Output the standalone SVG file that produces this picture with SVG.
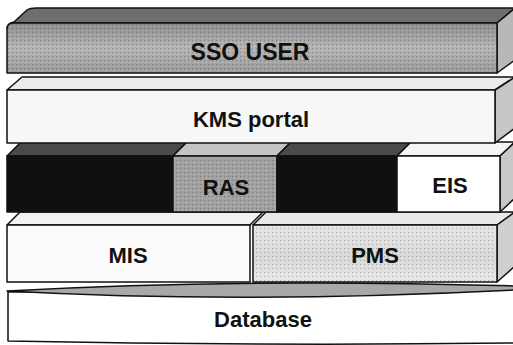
<svg xmlns="http://www.w3.org/2000/svg" width="513" height="345" viewBox="0 0 513 345">
  <defs>
    <linearGradient id="ssoFront" x1="0" y1="0" x2="0" y2="1">
      <stop offset="0" stop-color="#8c8c8c"/>
      <stop offset="0.5" stop-color="#b4b4b4"/>
      <stop offset="1" stop-color="#9a9a9a"/>
    </linearGradient>
    <linearGradient id="pmsFront" x1="0" y1="0" x2="0" y2="1">
      <stop offset="0" stop-color="#e4e4e4"/>
      <stop offset="0.6" stop-color="#d8d8d8"/>
      <stop offset="1" stop-color="#e8e8e8"/>
    </linearGradient>
    <pattern id="dots" width="4" height="4" patternUnits="userSpaceOnUse">
      <rect x="0" y="0" width="1" height="1" fill="#000" opacity="0.25"/>
      <rect x="2" y="2" width="1" height="1" fill="#fff" opacity="0.3"/>
    </pattern>
  </defs>
  <style>
    .edge { stroke: #111; stroke-width: 1.5; stroke-linejoin: round; }
    .lbl { font-family: "Liberation Sans", Arial, sans-serif; font-size: 22px; font-weight: bold; fill: #111; text-anchor: middle; }
    .black { fill: #101010; }
    .blacktop { fill: #4a4a4a; }
  </style>
  <rect width="513" height="345" fill="#ffffff"/>

  <!-- Database -->
  <g id="database">
    <path class="edge" d="M8,292 L8,341 Q260,346 515,343 L515,289 Z" fill="#ffffff"/>
    <path class="edge" d="M7,291 Q240,278 515,286 L515,290 Q240,304 7,291 Z" fill="#a8a8a8"/>
    <text class="lbl" x="263" y="327">Database</text>
  </g>

  <!-- MIS -->
  <g id="mis">
    <polygon class="edge" points="7,225 20,212 263,212 250,225" fill="#f2f2f2"/>
    <rect class="edge" x="7" y="225" width="243" height="57" fill="#fbfbfb"/>
    <text class="lbl" x="128" y="263">MIS</text>
  </g>

  <!-- PMS -->
  <g id="pms">
    <polygon class="edge" points="253,225 266,212 515,212 497,225" fill="#e8e8e8"/>
    <polygon class="edge" points="497,225 515,212 515,266 497,282" fill="#cfcfcf"/>
    <rect class="edge" x="253" y="225" width="244" height="57" fill="url(#pmsFront)"/>
    <rect x="254" y="226" width="242" height="55" fill="url(#dots)"/>
    <text class="lbl" x="375" y="263">PMS</text>
  </g>

  <!-- Layer 3 -->
  <g id="black-left">
    <polygon class="edge blacktop" points="7,156 21,142 187,142 173,156"/>
    <rect class="edge black" x="7" y="156" width="166" height="56"/>
  </g>
  <g id="ras">
    <polygon class="edge" points="173,156 187,142 291,142 277,156" fill="#c4c4c4"/>
    <rect class="edge" x="173" y="156" width="104" height="56" fill="#a0a0a0"/>
    <rect x="174" y="157" width="102" height="54" fill="url(#dots)"/>
    <text class="lbl" x="226" y="195">RAS</text>
  </g>
  <g id="black-right">
    <polygon class="edge blacktop" points="277,156 291,142 411,142 397,156"/>
    <rect class="edge black" x="277" y="156" width="120" height="56"/>
  </g>
  <g id="eis">
    <polygon class="edge" points="397,156 411,142 515,142 500,156" fill="#f4f4f4"/>
    <polygon class="edge" points="500,156 515,142 515,198 500,212" fill="#c8c8c8"/>
    <rect class="edge" x="397" y="156" width="103" height="56" fill="#ffffff"/>
    <text class="lbl" x="450" y="193">EIS</text>
  </g>

  <!-- KMS portal -->
  <g id="kms-portal">
    <polygon class="edge" points="7,90 22,77 515,77 495,90" fill="#ececec"/>
    <polygon class="edge" points="495,90 515,77 515,128 495,143" fill="#c6c6c6"/>
    <rect class="edge" x="7" y="90" width="488" height="53" fill="#f7f7f7"/>
    <text class="lbl" x="251" y="127">KMS portal</text>
  </g>

  <!-- SSO USER -->
  <g id="sso-user">
    <path class="edge" d="M7,29 Q7,23 14,22 L27,10 Q30,8 36,8 L515,8 L497,23 L14,23" fill="#6e6e6e"/>
    <polygon class="edge" points="497,23 515,8 515,60 497,73" fill="#b8b8b8"/>
    <path class="edge" d="M14,23 L497,23 L497,73 L7,73 L7,29 Q7,23 14,23 Z" fill="url(#ssoFront)"/>
    <rect x="8" y="24" width="488" height="48" fill="url(#dots)"/>
    <text class="lbl" x="250" y="60" style="font-size:23px">SSO USER</text>
  </g>

  <g id="connectors"/>
</svg>
